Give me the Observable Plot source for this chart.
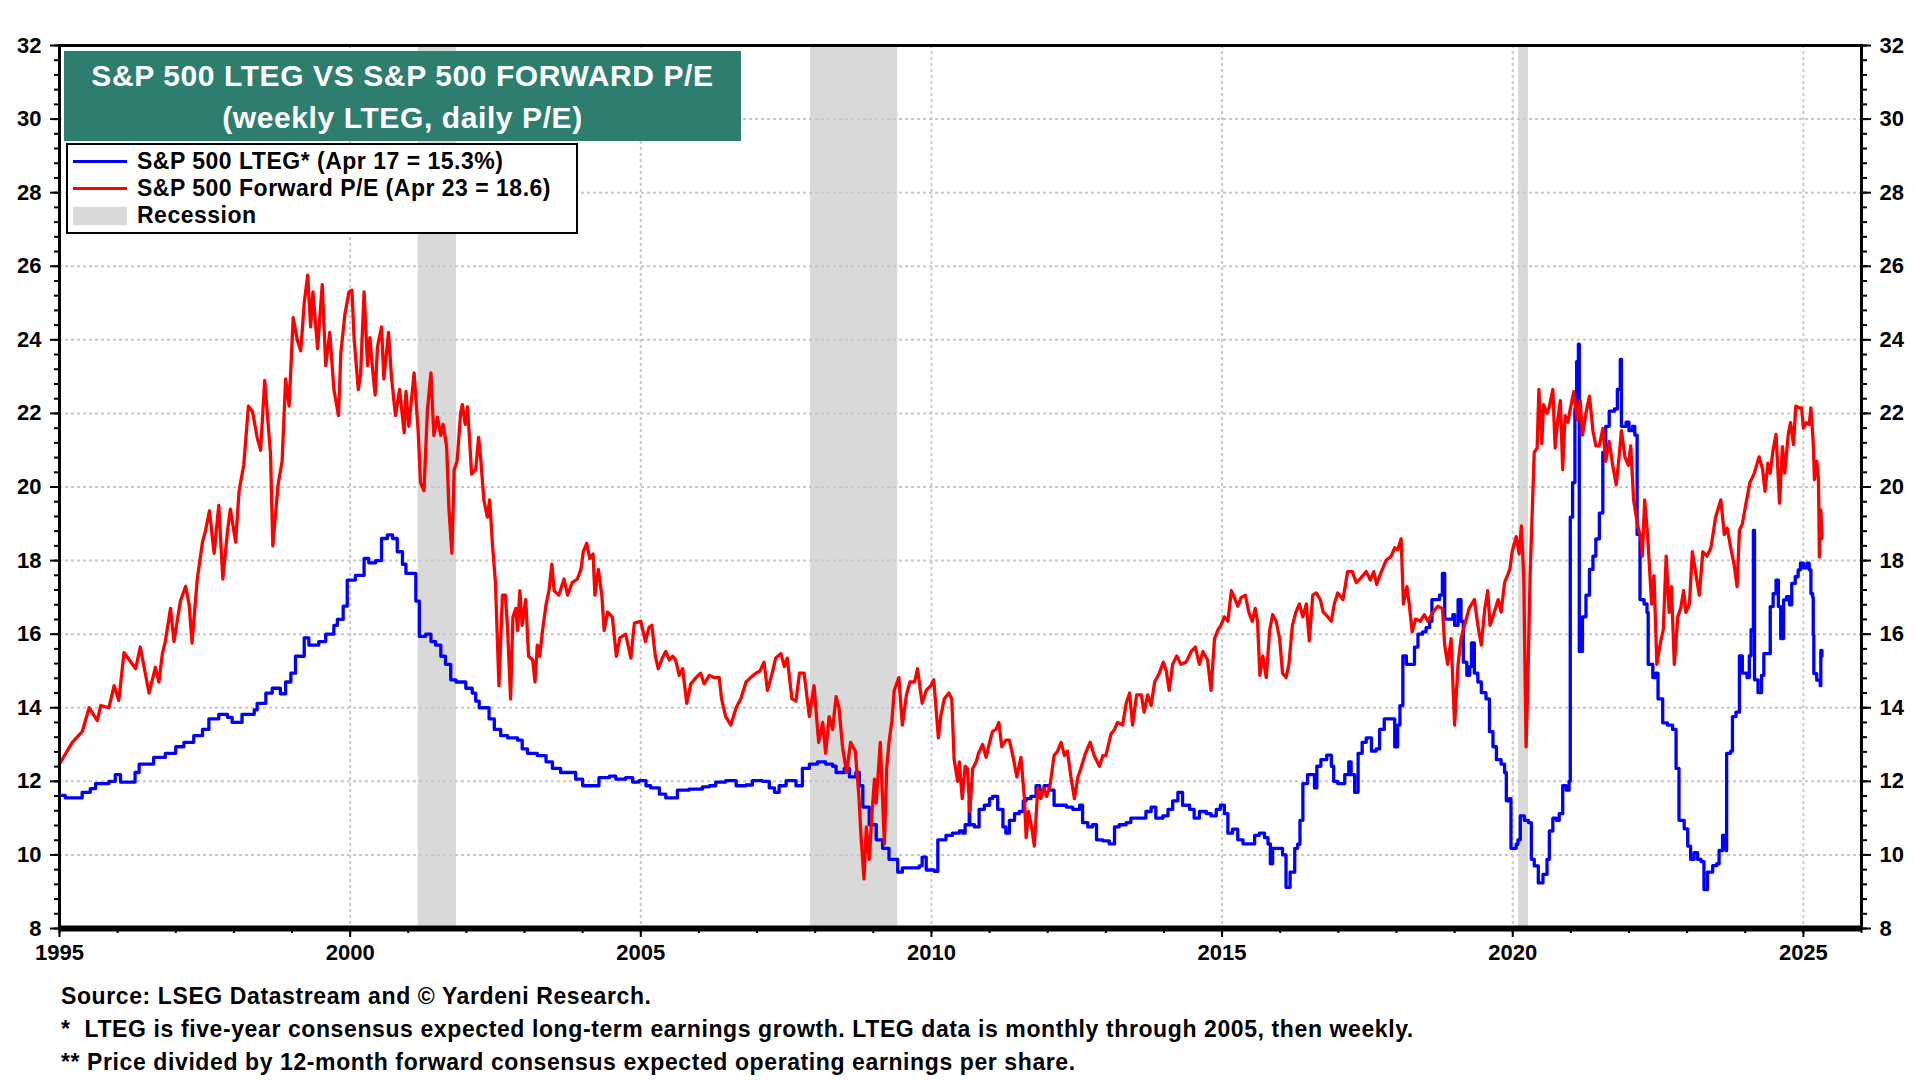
<!DOCTYPE html>
<html>
<head>
<meta charset="utf-8">
<script src="https://cdn.jsdelivr.net/npm/d3@7"></script>
<script src="https://cdn.jsdelivr.net/npm/@observablehq/plot@0.6"></script>
<style>
  html, body { margin: 0; padding: 0; background: #fff; }
  #wrap { position: relative; width: 1920px; height: 1080px; overflow: hidden; background: #fff;
          font-family: "Liberation Sans", Arial, sans-serif; font-weight: bold; color: #000; }
  #chart { position: absolute; left: 0; top: 0; }
  #title { position: absolute; left: 64px; top: 51px; width: 677px; height: 90px; background: #2E7E70;
           color: #fff; font-size: 30px; letter-spacing: 0.6px; text-align: center; line-height: 42px; padding-top: 4px; box-sizing: border-box; }
  #legend { position: absolute; left: 66px; top: 143px; width: 512px; height: 91px; background: #fff;
            border: 2.5px solid #000; box-sizing: border-box; padding-top: 3px; }
  .row { display: flex; align-items: center; height: 27px; font-size: 23px; letter-spacing: 0.5px; }
  .sw { width: 54px; margin-left: 5px; margin-right: 10px; }
  #notes { position: absolute; left: 61px; top: 980px; font-size: 23px; letter-spacing: 0.6px; line-height: 33px; white-space: pre; }
</style>
</head>
<body>
<div id="wrap">
  <div id="chart"></div>
  <div id="title">S&amp;P 500 LTEG VS S&amp;P 500 FORWARD P/E<br>(weekly LTEG, daily P/E)</div>
  <div id="legend"></div>
  <div id="notes"></div>
</div>
<script>
// ---------- DATA ----------
const yMajorTicks = [8, 10, 12, 14, 16, 18, 20, 22, 24, 26, 28, 30, 32];
const xMajorTicks = [1995, 2000, 2005, 2010, 2015, 2020, 2025];
const recessionStart = [2001.17, 2007.92, 2020.10];
const recessionEnd   = [2001.83, 2009.42, 2020.27];

const seriesNames = ["S&P 500 LTEG* (Apr 17 = 15.3%)", "S&P 500 Forward P/E (Apr 23 = 18.6)", "Recession"];
const footnotes = [
  "Source: LSEG Datastream and \u00A9 Yardeni Research.",
  "*  LTEG is five-year consensus expected long-term earnings growth. LTEG data is monthly through 2005, then weekly.",
  "** Price divided by 12-month forward consensus expected operating earnings per share."
];

// S&P 500 LTEG, monthly through 2005 [year, %]
const ltegMonthly = [
  [1995.00,11.62],[1995.10,11.55],[1995.39,11.70],[1995.53,11.80],[1995.62,11.94],[1995.85,12.00],[1995.96,12.18],
  [1996.05,11.98],[1996.30,12.24],[1996.37,12.47],[1996.62,12.65],[1996.82,12.76],[1997.00,12.94],[1997.14,13.06],
  [1997.31,13.24],[1997.46,13.41],[1997.57,13.70],[1997.74,13.82],[1997.89,13.74],[1997.97,13.60],[1998.14,13.82],
  [1998.35,13.94],[1998.40,14.12],[1998.55,14.40],[1998.66,14.53],[1998.80,14.38],[1998.89,14.70],[1998.98,14.94],
  [1999.06,15.40],[1999.21,15.90],[1999.29,15.70],[1999.46,15.80],[1999.58,16.00],[1999.72,16.24],[1999.78,16.40],
  [1999.88,16.76],[1999.95,17.47],[2000.09,17.60],[2000.24,18.06],[2000.32,17.94],[2000.44,18.00],[2000.54,18.60],
  [2000.64,18.70],[2000.73,18.60],[2000.81,18.24],[2000.90,17.90],[2000.96,17.65],[2001.13,16.90],[2001.19,15.94],
  [2001.30,16.00],[2001.39,15.80],[2001.47,15.70],[2001.56,15.40],[2001.64,15.18],[2001.73,14.76],[2001.82,14.70],
  [2001.99,14.53],[2002.10,14.40],[2002.16,14.18],[2002.22,14.00],[2002.39,13.70],[2002.48,13.41],[2002.59,13.24],
  [2002.71,13.18],[2002.88,13.12],[2002.96,12.88],[2003.05,12.76],[2003.22,12.70],[2003.37,12.53],[2003.48,12.35],
  [2003.62,12.24],[2003.88,12.06],[2004.00,11.88],[2004.28,12.10],[2004.46,12.14],[2004.57,12.06],[2004.74,12.10],
  [2004.86,11.98],[2004.97,12.02],[2005.09,11.88]
];

// S&P 500 LTEG, weekly from 2005 [year, %]
const ltegWeekly = [
  [2005.17,11.82],[2005.32,11.65],[2005.43,11.55],[2005.63,11.76],[2005.83,11.79],[2006.06,11.85],[2006.18,11.88],
  [2006.29,11.98],[2006.46,12.02],[2006.64,11.88],[2006.81,11.90],[2006.92,12.02],[2007.09,12.00],[2007.21,11.82],
  [2007.30,11.70],[2007.38,11.88],[2007.50,12.02],[2007.67,11.88],[2007.78,12.35],[2007.90,12.47],[2008.04,12.53],
  [2008.18,12.47],[2008.30,12.41],[2008.36,12.24],[2008.50,12.35],[2008.59,12.12],[2008.70,12.24],[2008.76,11.88],
  [2008.82,11.30],[2008.93,10.82],[2009.05,10.41],[2009.16,10.18],[2009.27,9.88],[2009.42,9.53],[2009.50,9.65],
  [2009.68,9.65],[2009.79,9.70],[2009.84,9.94],[2009.91,9.59],[2010.05,9.55],[2010.11,10.41],[2010.25,10.53],
  [2010.36,10.59],[2010.48,10.65],[2010.54,10.59],[2010.58,10.82],[2010.65,11.47],[2010.66,10.82],[2010.74,10.76],
  [2010.82,11.24],[2010.91,11.35],[2011.00,11.53],[2011.05,11.59],[2011.14,11.24],[2011.23,10.76],[2011.28,10.59],
  [2011.34,10.94],[2011.43,11.12],[2011.51,11.18],[2011.58,11.47],[2011.63,11.53],[2011.71,11.59],[2011.80,11.88],
  [2011.86,11.76],[2011.94,11.88],[2012.03,11.76],[2012.11,11.35],[2012.20,11.35],[2012.32,11.30],[2012.43,11.24],
  [2012.55,11.35],[2012.60,10.88],[2012.69,10.76],[2012.77,10.82],[2012.84,10.41],[2012.95,10.38],[2013.06,10.30],
  [2013.15,10.76],[2013.23,10.82],[2013.35,10.88],[2013.43,11.00],[2013.58,11.00],[2013.69,11.18],[2013.78,11.30],
  [2013.86,11.00],[2013.98,11.06],[2014.07,11.24],[2014.15,11.47],[2014.24,11.70],[2014.32,11.35],[2014.44,11.24],
  [2014.52,11.00],[2014.61,11.18],[2014.73,11.12],[2014.81,11.06],[2014.90,11.24],[2014.97,11.35],[2015.04,11.12],
  [2015.10,10.59],[2015.18,10.70],[2015.27,10.41],[2015.36,10.30],[2015.47,10.30],[2015.56,10.53],[2015.64,10.59],
  [2015.73,10.47],[2015.79,10.30],[2015.83,9.76],[2015.87,10.18],[2015.96,10.18],[2016.04,10.00],[2016.10,9.12],
  [2016.17,9.53],[2016.25,10.18],[2016.30,10.29],[2016.34,10.94],[2016.39,11.94],[2016.47,12.18],[2016.53,12.18],
  [2016.59,11.82],[2016.63,12.41],[2016.70,12.59],[2016.76,12.59],[2016.80,12.71],[2016.88,12.41],[2016.92,12.00],
  [2016.99,11.94],[2017.07,11.94],[2017.11,12.18],[2017.18,12.53],[2017.22,12.18],[2017.28,11.70],[2017.34,12.76],
  [2017.41,13.06],[2017.48,13.18],[2017.57,12.82],[2017.65,12.88],[2017.71,13.41],[2017.79,13.70],[2017.88,13.70],
  [2017.97,12.94],[2018.02,13.53],[2018.06,14.06],[2018.11,15.41],[2018.17,15.18],[2018.22,15.18],[2018.31,15.65],
  [2018.37,16.00],[2018.45,16.06],[2018.51,16.18],[2018.57,16.35],[2018.61,16.94],[2018.68,16.94],[2018.74,17.06],
  [2018.79,17.65],[2018.83,16.41],[2018.91,16.41],[2018.97,16.53],[2019.00,16.24],[2019.06,16.94],[2019.11,16.35],
  [2019.15,15.24],[2019.21,14.88],[2019.26,15.12],[2019.29,15.76],[2019.34,14.94],[2019.40,14.70],[2019.46,14.41],
  [2019.54,14.24],[2019.60,13.35],[2019.66,12.94],[2019.72,12.59],[2019.80,12.47],[2019.86,12.24],[2019.89,11.47],
  [2019.94,11.53],[2019.97,10.18],[2020.06,10.29],[2020.09,10.41],[2020.13,11.06],[2020.20,10.94],[2020.27,10.88],
  [2020.32,9.88],[2020.37,9.70],[2020.44,9.24],[2020.52,9.47],[2020.59,9.88],[2020.63,10.65],[2020.69,11.00],
  [2020.75,10.94],[2020.80,11.12],[2020.86,11.88],[2020.92,11.76],[2020.97,12.00],[2020.99,19.18],[2021.03,20.12],
  [2021.07,22.12],[2021.10,23.41],[2021.13,23.88],[2021.145,15.53],[2021.20,16.47],[2021.26,17.06],[2021.32,17.76],
  [2021.38,18.12],[2021.43,18.59],[2021.49,19.29],[2021.55,20.94],[2021.60,21.65],[2021.66,22.06],[2021.75,22.12],
  [2021.80,22.65],[2021.85,23.47],[2021.87,21.65],[2021.95,21.76],[2022.00,21.53],[2022.06,21.65],[2022.10,21.41],
  [2022.14,18.71],[2022.19,16.94],[2022.26,16.82],[2022.31,16.59],[2022.33,15.18],[2022.41,14.82],[2022.46,14.94],
  [2022.50,14.24],[2022.58,13.59],[2022.66,13.53],[2022.75,13.41],[2022.81,12.35],[2022.86,10.94],[2022.95,10.71],
  [2023.01,10.24],[2023.06,9.88],[2023.12,10.06],[2023.18,9.88],[2023.24,9.82],[2023.29,9.06],[2023.35,9.53],
  [2023.44,9.71],[2023.51,9.76],[2023.55,10.12],[2023.61,10.53],[2023.665,10.12],[2023.68,12.76],[2023.75,12.82],
  [2023.78,13.76],[2023.84,13.88],[2023.90,15.41],[2023.95,14.94],[2024.03,14.82],[2024.07,15.41],[2024.10,16.12],
  [2024.14,18.82],[2024.16,14.76],[2024.22,14.41],[2024.28,14.88],[2024.32,15.47],[2024.38,15.47],[2024.43,16.75],
  [2024.48,17.10],[2024.53,17.47],[2024.57,16.75],[2024.61,15.88],[2024.66,16.93],[2024.71,17.02],[2024.76,16.80],
  [2024.80,17.38],[2024.86,17.56],[2024.91,17.75],[2024.95,17.93],[2025.00,17.80],[2025.06,17.93],[2025.10,17.75],
  [2025.13,17.10],[2025.16,17.00],[2025.17,15.97],[2025.18,14.93],[2025.23,14.75],[2025.29,14.60],[2025.30,15.56],
  [2025.32,15.40]
];

// S&P 500 Forward P/E [year, ratio]
const pe1995to1999 = [
  [1995.00,12.47],[1995.22,13.06],[1995.39,13.35],[1995.51,14.00],[1995.65,13.65],[1995.71,14.06],[1995.85,14.00],
  [1995.94,14.60],[1996.02,14.20],[1996.11,15.50],[1996.31,15.06],[1996.39,15.65],[1996.54,14.40],[1996.65,15.10],
  [1996.71,14.70],[1996.77,15.47],[1996.82,15.80],[1996.91,16.70],[1996.97,15.80],[1997.08,16.90],[1997.17,17.30],
  [1997.23,16.80],[1997.28,15.76],[1997.37,17.50],[1997.46,18.50],[1997.51,18.80],[1997.58,19.35],[1997.66,18.20],
  [1997.74,19.50],[1997.81,17.50],[1997.89,18.80],[1997.94,19.40],[1998.03,18.50],[1998.09,19.90],[1998.17,20.60],
  [1998.25,22.20],[1998.32,22.05],[1998.40,21.35],[1998.46,21.00],[1998.53,22.90],[1998.63,20.90],[1998.67,18.40],
  [1998.76,20.06],[1998.83,20.70],[1998.89,22.94],[1998.95,22.20],[1999.02,24.60],[1999.09,24.00],[1999.15,23.70],
  [1999.21,25.00],[1999.27,25.76],[1999.32,24.35],[1999.36,25.30],[1999.44,23.76],[1999.52,25.50],[1999.58,23.30],
  [1999.65,24.20],[1999.72,22.65],[1999.80,21.94],[1999.84,23.65],[1999.91,24.70],[1999.98,25.30]
];
const pe2000to2004 = [
  [2000.03,25.35],[2000.07,24.00],[2000.14,22.65],[2000.18,23.06],[2000.24,25.30],[2000.30,23.30],[2000.34,24.06],
  [2000.38,23.30],[2000.43,22.50],[2000.47,23.80],[2000.54,24.35],[2000.58,22.94],[2000.66,24.20],[2000.71,23.00],
  [2000.78,21.94],[2000.85,22.65],[2000.93,21.47],[2000.96,22.60],[2001.01,21.65],[2001.10,23.10],[2001.17,21.53],
  [2001.21,20.12],[2001.27,19.90],[2001.33,22.10],[2001.39,23.10],[2001.44,21.40],[2001.50,21.90],[2001.56,21.40],
  [2001.60,21.70],[2001.66,21.10],[2001.70,19.40],[2001.75,18.20],[2001.79,20.47],[2001.84,20.70],[2001.90,22.00],
  [2001.93,22.24],[2001.98,21.70],[2002.02,22.18],[2002.09,20.35],[2002.16,20.47],[2002.21,21.35],[2002.25,20.70],
  [2002.30,19.65],[2002.36,19.18],[2002.40,19.65],[2002.45,18.40],[2002.50,17.40],[2002.56,14.60],[2002.62,17.06],
  [2002.67,17.06],[2002.71,16.10],[2002.76,14.24],[2002.80,16.47],[2002.85,16.70],[2002.88,16.10],[2002.92,17.18],
  [2002.96,16.24],[2003.02,16.94],[2003.07,15.40],[2003.14,15.30],[2003.18,14.70],[2003.22,15.70],[2003.26,15.40],
  [2003.31,16.10],[2003.37,16.80],[2003.42,17.18],[2003.47,17.90],[2003.51,17.18],[2003.59,17.06],[2003.68,17.50],
  [2003.74,17.06],[2003.82,17.40],[2003.91,17.50],[2003.97,17.76],[2004.01,18.24],[2004.07,18.47],[2004.12,18.06],
  [2004.18,18.18],[2004.21,17.06],[2004.27,17.76],[2004.33,17.06],[2004.37,16.10],[2004.43,16.60],[2004.51,16.47],
  [2004.58,15.40],[2004.64,15.90],[2004.74,16.00],[2004.83,15.35],[2004.89,16.30]
];
const pe2005to2009 = [
  [2005.00,16.35],[2005.08,15.80],[2005.14,16.18],[2005.19,16.24],[2005.25,15.40],[2005.30,15.06],[2005.37,15.35],
  [2005.43,15.53],[2005.49,15.30],[2005.55,15.40],[2005.60,15.30],[2005.66,14.88],[2005.72,15.06],[2005.79,14.12],
  [2005.86,14.65],[2005.95,14.82],[2006.03,14.94],[2006.09,14.65],[2006.18,14.88],[2006.26,14.82],[2006.35,14.82],
  [2006.39,14.24],[2006.46,13.76],[2006.55,13.53],[2006.64,14.00],[2006.72,14.24],[2006.81,14.70],[2006.89,14.82],
  [2006.98,14.94],[2007.05,15.00],[2007.12,15.24],[2007.18,14.47],[2007.27,15.00],[2007.32,15.35],[2007.41,15.47],
  [2007.47,15.12],[2007.52,15.35],[2007.60,14.24],[2007.67,14.18],[2007.73,14.94],[2007.81,14.94],[2007.90,13.76],
  [2007.98,14.60],[2008.06,13.06],[2008.13,13.60],[2008.18,12.76],[2008.24,13.76],[2008.30,13.41],[2008.36,14.30],
  [2008.41,14.00],[2008.47,12.94],[2008.54,12.24],[2008.61,13.06],[2008.69,12.82],[2008.75,11.65],[2008.79,10.47],
  [2008.84,9.35],[2008.88,10.76],[2008.93,9.88],[2008.98,11.18],[2009.02,12.06],[2009.05,11.41],[2009.12,13.06],
  [2009.19,10.30],[2009.23,12.35],[2009.27,13.06],[2009.32,13.65],[2009.36,14.47],[2009.44,14.82],[2009.50,13.53],
  [2009.57,14.35],[2009.63,14.70],[2009.71,14.70],[2009.76,15.06],[2009.84,14.12],[2009.91,14.47],[2009.99,14.60]
];
const pe2010to2014 = [
  [2010.04,14.76],[2010.12,13.18],[2010.16,13.76],[2010.22,14.24],[2010.30,14.40],[2010.35,14.24],[2010.39,12.60],
  [2010.45,12.00],[2010.48,12.53],[2010.53,11.53],[2010.58,12.41],[2010.62,12.35],[2010.66,11.18],[2010.71,12.35],
  [2010.77,12.53],[2010.81,12.76],[2010.88,13.00],[2010.94,12.65],[2011.00,13.06],[2011.05,13.35],[2011.11,13.41],
  [2011.16,13.60],[2011.21,12.94],[2011.28,13.12],[2011.34,13.12],[2011.40,12.70],[2011.47,12.12],[2011.54,12.65],
  [2011.60,11.53],[2011.63,10.47],[2011.67,11.18],[2011.73,10.70],[2011.77,10.24],[2011.83,11.82],[2011.88,11.53],
  [2011.93,11.82],[2011.98,11.59],[2012.04,11.88],[2012.11,12.70],[2012.17,12.82],[2012.23,13.06],[2012.29,12.70],
  [2012.34,12.82],[2012.40,12.12],[2012.46,11.53],[2012.52,12.12],[2012.57,12.35],[2012.65,12.76],[2012.73,13.06],
  [2012.80,12.70],[2012.89,12.41],[2012.95,12.70],[2013.00,12.70],[2013.09,13.29],[2013.15,13.41],[2013.20,13.60],
  [2013.29,13.53],[2013.35,14.12],[2013.41,14.40],[2013.46,13.53],[2013.53,14.35],[2013.61,14.35],[2013.66,13.88],
  [2013.72,14.35],[2013.78,14.06],[2013.84,14.70],[2013.92,14.94],[2013.99,15.24],[2014.04,15.00],[2014.09,14.47],
  [2014.15,15.18],[2014.22,15.41],[2014.29,15.18],[2014.38,15.24],[2014.47,15.53],[2014.54,15.65],[2014.61,15.18],
  [2014.67,15.53],[2014.75,15.30],[2014.81,14.47],[2014.87,15.88],[2014.93,16.12],[2014.98,16.24]
];
const pe2015to2019 = [
  [2015.04,16.47],[2015.10,16.35],[2015.16,17.18],[2015.21,17.00],[2015.27,16.76],[2015.33,17.00],[2015.40,17.06],
  [2015.46,16.60],[2015.52,16.35],[2015.57,16.70],[2015.61,16.35],[2015.65,14.88],[2015.70,15.41],[2015.76,14.82],
  [2015.82,16.12],[2015.87,16.53],[2015.93,16.35],[2015.99,15.88],[2016.04,14.94],[2016.10,14.82],[2016.15,15.18],
  [2016.21,16.24],[2016.27,16.60],[2016.33,16.82],[2016.39,16.47],[2016.45,16.82],[2016.50,15.82],[2016.56,17.06],
  [2016.62,17.12],[2016.69,16.94],[2016.74,16.60],[2016.82,16.47],[2016.88,16.35],[2016.93,16.82],[2016.99,17.12],
  [2017.08,16.94],[2017.16,17.70],[2017.24,17.70],[2017.31,17.40],[2017.39,17.53],[2017.48,17.70],[2017.55,17.47],
  [2017.61,17.70],[2017.66,17.35],[2017.74,17.70],[2017.82,18.00],[2017.91,18.12],[2017.97,18.35],[2018.02,18.29],
  [2018.08,18.59],[2018.12,16.82],[2018.18,17.29],[2018.22,16.82],[2018.27,16.06],[2018.33,16.41],[2018.41,16.35],
  [2018.48,16.53],[2018.54,16.35],[2018.63,16.60],[2018.71,16.76],[2018.79,16.70],[2018.83,15.70],[2018.88,15.18],
  [2018.94,15.88],[2019.00,13.53],[2019.06,15.18],[2019.11,15.88],[2019.19,16.35],[2019.25,16.70],[2019.34,16.94],
  [2019.40,16.24],[2019.46,15.70],[2019.52,16.70],[2019.57,17.18],[2019.61,16.24],[2019.67,16.53],[2019.75,16.94],
  [2019.80,16.60],[2019.86,17.40],[2019.95,17.76],[2019.99,18.24]
];
const pe2020to2025 = [
  [2020.06,18.65],[2020.11,18.18],[2020.15,18.94],[2020.19,17.53],[2020.23,12.94],[2020.26,14.70],[2020.30,17.65],
  [2020.37,20.94],[2020.42,21.06],[2020.45,22.65],[2020.50,21.18],[2020.53,22.24],[2020.59,22.00],[2020.63,22.18],
  [2020.69,22.65],[2020.73,21.06],[2020.77,21.76],[2020.82,22.35],[2020.86,20.47],[2020.90,21.94],[2020.95,21.76],
  [2020.99,22.12],[2021.05,22.59],[2021.11,21.82],[2021.16,22.35],[2021.20,21.41],[2021.26,22.00],[2021.32,22.47],
  [2021.38,21.53],[2021.43,21.12],[2021.49,21.12],[2021.55,21.59],[2021.60,20.70],[2021.66,21.24],[2021.72,20.59],
  [2021.78,20.06],[2021.83,20.82],[2021.87,21.53],[2021.93,20.82],[2021.99,20.59],[2022.03,21.12],[2022.08,19.65],
  [2022.15,18.94],[2022.21,18.59],[2022.23,18.12],[2022.27,19.65],[2022.32,18.70],[2022.39,16.82],[2022.43,17.59],
  [2022.48,15.18],[2022.54,15.76],[2022.59,16.12],[2022.64,18.12],[2022.69,16.59],[2022.73,17.29],[2022.78,15.18],
  [2022.84,16.47],[2022.89,16.71],[2022.94,17.18],[2022.98,16.59],[2023.04,16.82],[2023.09,18.24],[2023.15,17.65],
  [2023.21,17.06],[2023.27,18.24],[2023.34,18.12],[2023.41,18.35],[2023.49,19.18],[2023.58,19.65],[2023.64,18.71],
  [2023.69,18.88],[2023.75,18.35],[2023.81,17.88],[2023.86,17.29],[2023.90,18.82],[2023.95,19.00],[2024.01,19.53],
  [2024.08,20.12],[2024.15,20.35],[2024.24,20.82],[2024.30,20.47],[2024.34,19.88],[2024.39,20.65],[2024.43,20.38],
  [2024.48,21.02],[2024.53,21.43],[2024.59,19.56],[2024.64,21.10],[2024.68,20.38],[2024.74,21.43],[2024.78,21.75],
  [2024.83,21.15],[2024.87,22.20],[2024.93,22.15],[2024.97,22.15],[2025.00,21.60],[2025.05,21.75],[2025.10,21.70],
  [2025.13,22.15],[2025.17,21.20],[2025.19,20.20],[2025.23,20.70],[2025.26,20.20],[2025.275,18.10],[2025.30,19.38],
  [2025.32,18.60]
];

// ---------- BUILD ----------
const lteg = ltegMonthly.concat(ltegWeekly);
const pe = [].concat(pe1995to1999, pe2000to2004, pe2005to2009, pe2010to2014, pe2015to2019, pe2020to2025);
const recessions = recessionStart.map((s, i) => ({start: s, end: recessionEnd[i]}));
const yGrid = yMajorTicks.filter(v => v > 8 && v < 32);
const xGrid = xMajorTicks.filter(v => v > 1995);
const yMinorTicks = d3.range(8, 32.0001, 0.4).map(v => +v.toFixed(1));
const xMinorTicks = d3.range(1995, 2027, 1);

const chart = Plot.plot({
  width: 1920,
  height: 980,
  marginLeft: 59,
  marginRight: 59,
  marginTop: 45,
  marginBottom: 52,
  x: {domain: [1995, 2026], label: null},
  y: {domain: [8, 32], label: null},
  style: {fontFamily: "'Liberation Sans', Arial, sans-serif", fontSize: "22px", fontWeight: "bold", color: "#000", background: "transparent", overflow: "visible"},
  marks: [
    Plot.rect(recessions, {x1: "start", x2: "end", fill: "#d9d9d9"}),
    Plot.ruleY(yGrid, {stroke: "#c8c8c8", strokeWidth: 2, strokeDasharray: "3,3"}),
    Plot.ruleX(xGrid, {stroke: "#c8c8c8", strokeWidth: 2, strokeDasharray: "3,3"}),
    Plot.line(lteg, {x: d => d[0], y: d => d[1], stroke: "#0000ff", strokeWidth: 3.3, curve: "step-after"}),
    Plot.line(pe, {x: d => d[0], y: d => d[1], stroke: "#ff0000", strokeWidth: 3.3}),
    Plot.frame({stroke: "#000", strokeWidth: 3}),
    Plot.ruleY([8], {stroke: "#000", strokeWidth: 6}),
    Plot.axisY(yMinorTicks, {anchor: "left", tickSize: 5, strokeWidth: 2, tickFormat: () => ""}),
    Plot.axisY(yMajorTicks, {anchor: "left", tickSize: 9, tickPadding: 9, strokeWidth: 2, tickFormat: d => String(d)}),
    Plot.axisY(yMinorTicks, {anchor: "right", tickSize: 5, strokeWidth: 2, tickFormat: () => ""}),
    Plot.axisY(yMajorTicks, {anchor: "right", tickSize: 9, tickPadding: 9, strokeWidth: 2, tickFormat: d => String(d)}),
    Plot.axisX(xMinorTicks, {tickSize: 5, strokeWidth: 2, tickFormat: () => ""}),
    Plot.axisX(xMajorTicks, {tickSize: 9, tickPadding: 7, strokeWidth: 2, tickFormat: d => String(d)})
  ]
});
document.getElementById("chart").appendChild(chart);

// legend
const legend = document.getElementById("legend");
const swatches = [
  '<div class="sw" style="height:3px;background:#0000ff"></div>',
  '<div class="sw" style="height:3px;background:#ff0000"></div>',
  '<div class="sw" style="height:18px;background:#d9d9d9"></div>'
];
seriesNames.forEach((name, i) => {
  const row = document.createElement("div");
  row.className = "row";
  row.innerHTML = swatches[i];
  const t = document.createElement("span");
  t.textContent = name;
  row.appendChild(t);
  legend.appendChild(row);
});

// footnotes
const notes = document.getElementById("notes");
footnotes.forEach(f => {
  const d = document.createElement("div");
  d.textContent = f;
  notes.appendChild(d);
});
</script>
</body>
</html>
